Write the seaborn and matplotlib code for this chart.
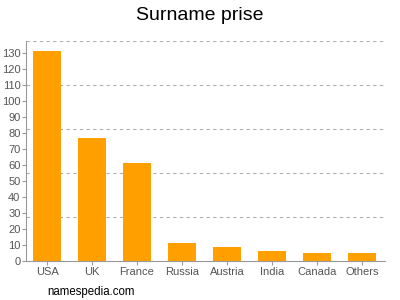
import matplotlib
matplotlib.use("Agg")
import matplotlib.pyplot as plt
import seaborn as sns
import numpy as np
import pandas as pd

countries = ["USA", "UK", "France", "Russia", "Austria", "India", "Canada", "Others"]
counts = [131, 77, 61, 11, 9, 6, 5, 5]
y_ticks = list(range(0, 131, 10))
y_top = 137.6

sns.set_theme(style="white")
plt.rcParams['font.family'] = ['Liberation Sans', 'DejaVu Sans']

df = pd.DataFrame({"country": countries, "count": counts})

fig = plt.figure(figsize=(4, 3), dpi=100)
ax = fig.add_axes([0.065, 0.13, 0.8975, 0.734])
sns.barplot(data=df, x="country", y="count", color="#ffa000", saturation=1,
            width=0.62, ax=ax, linewidth=0)

ax.set_ylim(0, y_top)
ax.set_xlim(-0.467, len(countries) - 0.49)
ax.set_yticks(y_ticks)
ax.set_yticks(np.linspace(0, y_top, 6)[1:], minor=True)
ax.yaxis.grid(True, which="minor", linestyle=(0, (3, 3)), color="#b0b0b0", linewidth=0.8)
ax.yaxis.grid(False, which="major")
ax.set_axisbelow(True)
ax.tick_params(axis="y", which="minor", length=0)
ax.tick_params(axis="both", which="major", length=3, width=0.8, color="#999999",
               labelsize=8, labelcolor="#555555", pad=1, left=True, bottom=True)
ax.set_xlabel("")
ax.set_ylabel("")
for s in ["top", "right"]:
    ax.spines[s].set_visible(False)
for s in ["left", "bottom"]:
    ax.spines[s].set_color("#999999")
    ax.spines[s].set_linewidth(0.8)

fig.text(0.5, 0.95, "Surname prise", ha="center", va="center", fontsize=14, color="#000000")
fig.text(0.118, 0.027, "namespedia.com", ha="left", va="center", fontsize=8.3, color="#000000")

fig.savefig("out.png", dpi=100)
